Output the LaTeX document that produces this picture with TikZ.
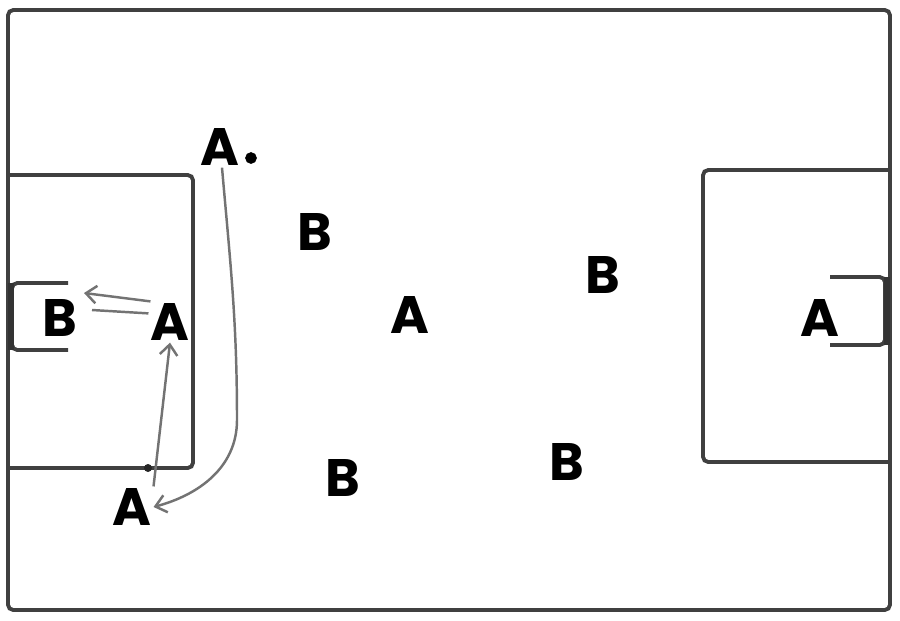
\documentclass[tikz,border=0pt]{standalone}
\usepackage{fontspec}
\setmainfont{Poppins}
\usetikzlibrary{arrows.meta,calc}
\begin{document}
\begin{tikzpicture}[x=0.02cm, y=-0.02cm,
    player/.style={font=\bfseries\fontsize{30}{30}\selectfont, inner sep=1pt},
    field/.style={draw=black!75, line width=2.2pt, rounded corners=3pt},
    run/.style={draw=black!55, line width=1.4pt, -{Straight Barb[length=6pt,width=10pt]}},
    runplain/.style={draw=black!55, line width=1.4pt}]

    \useasboundingbox (0,0) rectangle (900,620);

    % pitch
    \draw[field] (8,10) rectangle (890,610);
    \draw[field] (8,175) -- (193,175) -- (193,468) -- (8,468);
    \draw[field] (890,170) -- (703,170) -- (703,462) -- (890,462);

    % goals
    \draw[field] (68,283) -- (12,283) -- (12,350) -- (68,350);
    \fill[black!80] (8,283) rectangle (14,350);
    \draw[field] (830,277) -- (885,277) -- (885,345) -- (830,345);
    \fill[black!80] (884,277) rectangle (890,345);

    % players
    \node[player] (aTop) at (220,147) {A};
    \node[player] (aL) at (170,322) {A};
    \node[player] (aBot) at (132,507) {A};
    \node[player] (aMid) at (410,315) {A};
    \node[player] (aR) at (820,318) {A};
    \node[player] (bG) at (60,318) {B};
    \node[player] (b1) at (315,232) {B};
    \node[player] (b2) at (603,275) {B};
    \node[player] (b3) at (343,478) {B};
    \node[player] (b4) at (567,462) {B};

    % ball
    \node[circle, draw, fill=white, line width=3.4pt, minimum size=3pt, inner sep=0pt] (ball) at (251,158) {};

    % runs and pass
    \draw[run] ($(aTop.south)+(2,0)$) to[out=-85, in=90] (237,420) to[out=-90, in=15] (aBot.east);
    \fill[black!85] (148,468) circle (4);
    \draw[run] (aBot.north east) -- (aL.south);
    \coordinate (tip) at (84,293);
    \draw[run] ($(aL.north west)+(2,0)$) -- (tip);
    \draw[runplain] ($(aL.north west)+(0,12)$) -- ($(tip)+(8,17)$);
\end{tikzpicture}
\end{document}
